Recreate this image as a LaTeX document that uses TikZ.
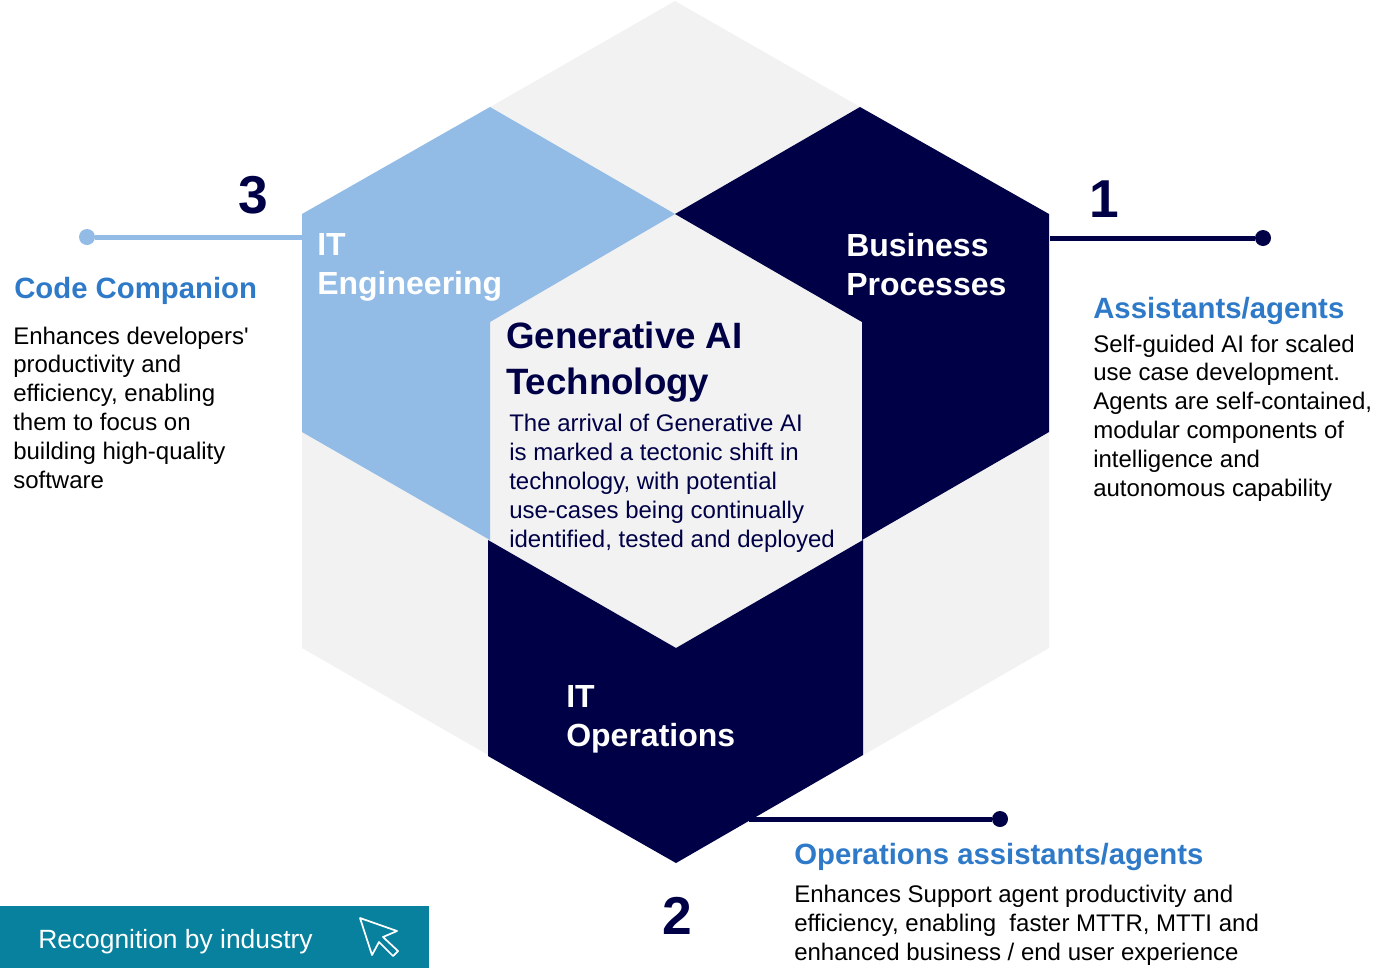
\documentclass[tikz,border=0pt]{standalone}
\usepackage{fontspec}
\setmainfont{Liberation Sans}
\definecolor{navy}{RGB}{0,0,70}
\definecolor{sky}{RGB}{146,187,230}
\definecolor{pale}{RGB}{242,242,242}
\definecolor{head}{RGB}{47,122,200}
\definecolor{teal}{RGB}{7,129,157}
\tikzset{
  body/.style={inner sep=0pt,anchor=base west,align=left,text=black,font=\fontsize{18}{21.6}\selectfont},
  title/.style={inner sep=0pt,anchor=base west,text=head,font=\fontsize{22}{27}\selectfont\bfseries},
  area/.style={inner sep=0pt,anchor=base west,align=left,font=\fontsize{24}{28.8}\selectfont\bfseries},
  digit/.style={inner sep=0pt,font=\fontsize{40}{48}\selectfont\bfseries,text=navy},
  dot/.style={circle,inner sep=0pt,minimum size=12pt}
}
\begin{document}
\begin{tikzpicture}[x=.75pt,y=-.75pt]
      \useasboundingbox (0,0) rectangle (1376,968);
      % hexagons
      \fill[pale] (675,1) -- (1049,215) -- (1049,648) -- (676,863) -- (302,648) -- (302,215) -- cycle;
      \fill[sky] (490,107) -- (675,214) -- (490,322) -- (490,540) -- (302,432) -- (302,214) -- cycle;
      \fill[navy] (860,107) -- (1049,214) -- (1049,432) -- (862,540) -- (862,322) -- (675,214) -- cycle;
      \fill[navy] (488,540) -- (676,648) -- (863,540) -- (863,755) -- (676,863) -- (488,756) -- cycle;
      % centre
      \node[inner sep=0pt,anchor=base west,align=left,text=navy,font=\fontsize{27.5}{34.5}\selectfont\bfseries] (C1) at (506,394) {Generative AI\\Technology};
      \node[body,text=navy] (C2) at (509,547) {The arrival of Generative AI\\is marked a tectonic shift in\\technology, with potential\\use-cases being continually\\identified, tested and deployed};
      % areas
      \node[area,text=white] (A1) at (317,294) {IT\\Engineering};
      \node[area,text=white] (B1) at (846,295) {Business\\Processes};
      \node[area,text=white] (O1) at (566,746) {IT\\Operations};
      % connectors
      \coordinate (A2) at (302,237);
      \node[dot,fill=sky] (A3) at (87,237) {};
      \draw[sky,line width=3.75pt] (A2) -- (A3);
      \coordinate (B2) at (1050,238);
      \node[dot,fill=navy] (B3) at (1263,238) {};
      \draw[navy,line width=3.75pt] (B2) -- (B3);
      \coordinate (O2) at (749,819);
      \node[dot,fill=navy] (O3) at (1000,819) {};
      \draw[navy,line width=3.75pt] (O2) -- (O3);
      \node[digit] (A4) at (253,195) {3};
      \node[digit] (B4) at (1104,199) {1};
      \node[digit] (O4) at (677,916) {2};
      % left
      \node[title] (A5) at (14,298) {Code Companion};
      \node[body] (A6) at (13,488) {Enhances developers{\addfontfeature{Ligatures=TeXOff}'}\\productivity and\\efficiency, enabling\\them to focus on\\building high-quality\\software};
      % right
      \node[title] (B5) at (1093,318) {Assistants/agents};
      \node[body] (B6) at (1093,496) {Self-guided AI for scaled\\use case development.\\Agents are self-contained,\\modular components of\\intelligence and\\autonomous capability};
      % bottom
      \node[title] (O5) at (794,864) {Operations assistants/agents};
      \node[body] (O6) at (794,960) {Enhances Support agent productivity and\\efficiency, enabling\ \ faster MTTR, MTTI and\\enhanced business / end user experience};
      % button
      \fill[teal] (0,906) rectangle (429,968);
      \node[inner sep=0pt,anchor=base west,text=white,font=\fontsize{19.8}{24}\selectfont] (R1) at (38,948) {Recognition by industry};
      \draw[white,line width=1.3pt,line join=round] (360,918) -- (397,931) -- (383,937) -- (398,951) -- (393,956) -- (379,942) -- (372,955) -- cycle;
    \end{tikzpicture}
\end{document}
